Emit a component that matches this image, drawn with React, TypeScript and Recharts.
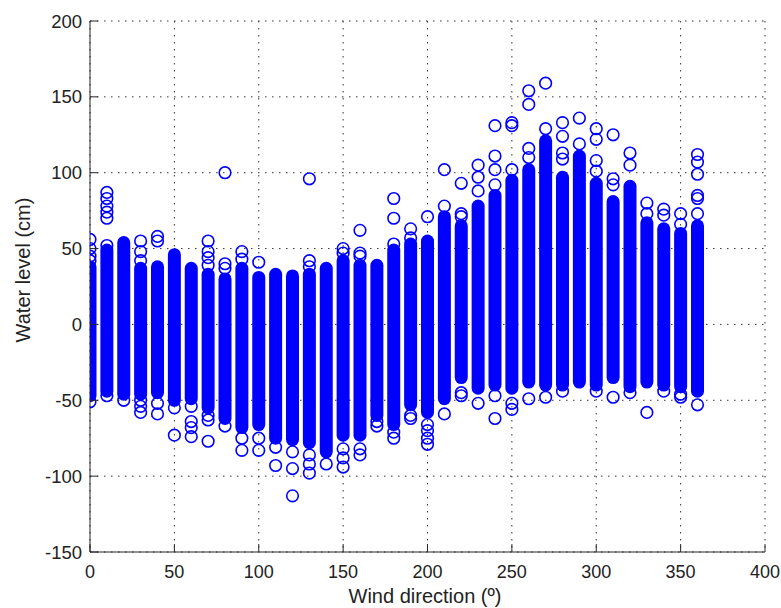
import React from 'react';
import { ComposedChart, Line, Scatter, XAxis, YAxis, CartesianGrid, Label } from 'recharts';

// Wind direction of each column (degrees)
const directions = [
  0, 10, 20, 30, 40, 50, 60, 70, 80, 90, 100, 110, 120, 130, 140, 150, 160, 170, 180,
  190, 200, 210, 220, 230, 240, 250, 260, 270, 280, 290, 300, 310, 320, 330, 340, 350, 360,
];

// Lower end of the dense block of observations (cm)
const lowLevels = [
  -47, -44, -46, -46, -45, -50, -49, -55, -62, -68, -66, -75, -76, -78, -84, -73, -73, -60, -66,
  -53, -58, -49, -35, -42, -40, -42, -38, -40, -40, -38, -40, -35, -41, -38, -40, -41, -44,
];

// Upper end of the dense block of observations (cm)
const highLevels = [
  38, 49, 54, 37, 38, 46, 37, 33, 30, 37, 31, 33, 32, 33, 37, 42, 39, 39, 49,
  53, 55, 71, 65, 78, 85, 95, 102, 121, 97, 111, 93, 81, 91, 67, 63, 60, 65,
];

// Isolated observations visible outside the dense blocks (cm), one list per direction
const outlierLevels: number[][] = [
  [56, 50, 45, 42, -51],
  [87, 83, 78, 74, 70, 52, -47],
  [-50],
  [55, 48, 42, -50, -54, -58],
  [58, 55, -52, -59],
  [-55, -73],
  [-54, -64, -68, -74],
  [55, 48, 44, 39, -60, -63, -77],
  [100, 40, 37, -67],
  [48, 43, -75, -83],
  [41, -75, -83],
  [-81, -93],
  [-84, -95, -113],
  [96, 42, 38, -86, -92, -98],
  [-92],
  [50, 47, -82, -88, -94],
  [62, 47, 45, -82, -86],
  [-64, -67],
  [83, 70, 53, -71, -75],
  [63, 57, -60, -62],
  [71, -66, -70, -75, -79],
  [102, 78, -59],
  [93, 73, 71, -45, -47],
  [105, 97, 88, -52],
  [131, 111, 102, 92, -47, -62],
  [133, 131, 102, -52, -56],
  [154, 145, 116, 110, -49],
  [159, 129, -48],
  [133, 124, 113, 109, -44],
  [136, 119],
  [129, 122, 108, 101, -44],
  [125, 96, 92, -48],
  [113, 105, -45],
  [80, 73, -58],
  [76, 72, -44],
  [73, 66, -46, -48],
  [112, 107, 99, 85, 83, 73, -53],
];

const xTicks = [0, 50, 100, 150, 200, 250, 300, 350, 400];
const yTicks = [-150, -100, -50, 0, 50, 100, 150, 200];

const BLUE = '#0000ff';
const AXIS = '#262626';
const TEXT = '#222';
const FONT = '"Liberation Sans", Arial, Helvetica, sans-serif';

const columns = directions.map((dir, i) => [
  { dir, level: lowLevels[i] },
  { dir, level: highLevels[i] },
]);

const outliers = directions.flatMap((dir, i) =>
  outlierLevels[i].map((level) => ({ dir, level }))
);

const XTick = (props: any) => {
  const { x, y, payload } = props;
  return (
    <g>
      <line x1={x} y1={y} x2={x} y2={y - 8} stroke={AXIS} strokeWidth={1} />
      <text x={x} y={y + 20} textAnchor="middle" dominantBaseline="central" fontFamily={FONT} fontSize={18} fill={TEXT}>
        {payload.value}
      </text>
    </g>
  );
};

const YTick = (props: any) => {
  const { x, y, payload } = props;
  return (
    <g>
      <line x1={x} y1={y} x2={x + 8} y2={y} stroke={AXIS} strokeWidth={1} />
      <text x={x - 8} y={y} textAnchor="end" dominantBaseline="central" fontFamily={FONT} fontSize={18.5} fill={TEXT}>
        {payload.value}
      </text>
    </g>
  );
};

const Ring = (props: any) => {
  const { cx, cy } = props;
  return <circle cx={cx} cy={cy} r={5.8} fill="none" stroke={BLUE} strokeWidth={1.6} />;
};

export default function App() {
  return (
    <div style={{ position: 'fixed', left: 0, top: 0, width: 781, height: 608, background: '#fff' }}>
      <ComposedChart width={781} height={608} margin={{ top: 21, right: 16, left: 30, bottom: 0 }}>
        <CartesianGrid stroke="#333" strokeDasharray="1.5 5.5" />
        <XAxis
          type="number"
          dataKey="dir"
          domain={[0, 400]}
          ticks={xTicks}
          allowDataOverflow
          height={56}
          stroke={AXIS}
          tickLine={false}
          tickSize={0}
          tickMargin={0}
          tick={<XTick />}
        >
          <Label
            content={() => (
              <text x={425} y={596} textAnchor="middle" dominantBaseline="central" fontFamily={FONT} fontSize={20} fill={TEXT}>
                Wind direction (º)
              </text>
            )}
          />
        </XAxis>
        <YAxis
          type="number"
          dataKey="level"
          domain={[-150, 200]}
          ticks={yTicks}
          allowDataOverflow
          width={60}
          stroke={AXIS}
          tickLine={false}
          tickSize={0}
          tickMargin={0}
          tick={<YTick />}
        >
          <Label
            content={() => (
              <text x={23} y={270} textAnchor="middle" dominantBaseline="central" transform="rotate(-90 23 270)" fontFamily={FONT} fontSize={20} fill={TEXT}>
                Water level (cm)
              </text>
            )}
          />
        </YAxis>
        {columns.map((pts, i) => (
          <Line
            key={directions[i]}
            data={pts}
            dataKey="level"
            type="linear"
            stroke={BLUE}
            strokeWidth={13}
            strokeLinecap="round"
            dot={false}
            activeDot={false}
            isAnimationActive={false}
            legendType="none"
          />
        ))}
        <Scatter data={outliers} dataKey="level" shape={<Ring />} isAnimationActive={false} />
      </ComposedChart>
    </div>
  );
}
